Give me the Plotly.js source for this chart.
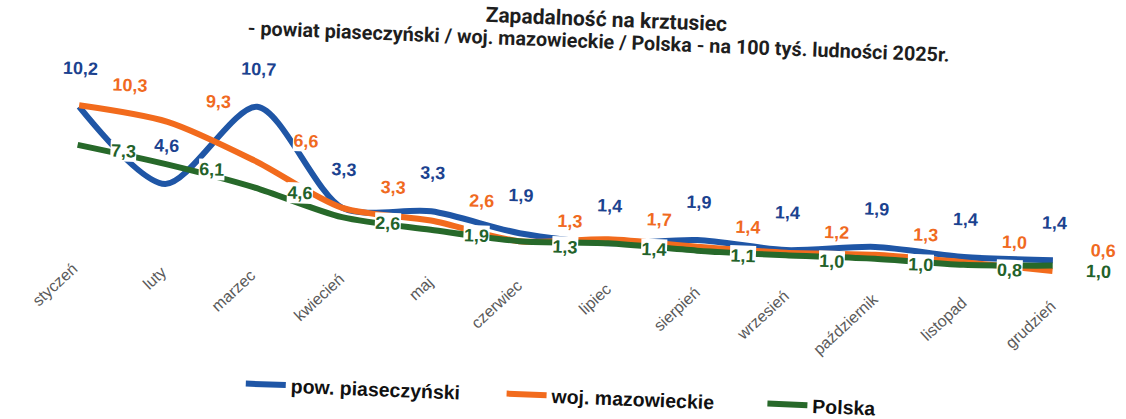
<!DOCTYPE html>
<html>
<head>
<meta charset="utf-8">
<script src="https://cdn.plot.ly/plotly-3.0.1.min.js"></script>
<style>
  html, body { margin: 0; padding: 0; background: #ffffff; overflow: hidden; }
  #chart { width: 1126px; height: 419px; transform: rotate(2.2deg); transform-origin: 50% 50%; }
</style>
</head>
<body>
<div id="chart"></div>
<script>
// --- data ---
const months = ['styczeń','luty','marzec','kwiecień','maj','czerwiec','lipiec','sierpień','wrzesień','październik','listopad','grudzień'];
const powiat = [10.2, 4.6, 10.7, 3.3, 3.3, 1.9, 1.4, 1.9, 1.4, 1.9, 1.4, 1.4];
const wojewodztwo = [10.3, 9.3, 6.6, 3.3, 2.6, 1.3, 1.7, 1.4, 1.2, 1.3, 1.0, 0.6];
const polska = [7.3, 6.1, 4.6, 2.6, 1.9, 1.3, 1.4, 1.1, 1.0, 1.0, 0.8, 1.0];
const seriesNames = ['pow. piaseczyński', 'woj. mazowieckie', 'Polska'];

const lineColors = ['#1f56a6', '#f26b1d', '#27692a'];
const labelColors = ['#1b428f', '#f06a1f', '#23622a'];
const labelShift = [ {x: 0, y: 38}, {x: 50, y: 22}, {x: 46, y: -4} ];
const allSeries = [powiat, wojewodztwo, polska];

const fmt = v => v.toFixed(1).replace('.', ',');

const traces = allSeries.map((vals, k) => ({
  type: 'scatter',
  mode: 'lines',
  x: months,
  y: vals,
  name: seriesNames[k],
  line: { color: lineColors[k], width: 6, shape: 'spline', smoothing: 0.8 },
  cliponaxis: false,
  hoverinfo: 'x+y+name'
}));

const annotations = [];
allSeries.forEach((vals, k) => {
  vals.forEach((v, i) => {
    annotations.push({
      x: months[i], y: v, xref: 'x', yref: 'y',
      text: fmt(v), showarrow: false,
      xshift: labelShift[k].x, yshift: labelShift[k].y,
      bgcolor: '#ffffff', borderpad: 0,
      font: { family: 'Liberation Sans, Arial, sans-serif', size: 18, color: labelColors[k], weight: 'bold' }
    });
  });
});

annotations.push({
  xref: 'paper', yref: 'paper', x: 0.525, y: 1.443,
  xanchor: 'center', yanchor: 'middle', showarrow: false,
  text: '- powiat piaseczyński / woj. mazowieckie / Polska - na 100 tyś. ludności 2025r.',
  font: { family: 'Roboto, sans-serif', size: 19.8, color: '#1e1e1e', weight: 'bold' }
});

const layout = {
  width: 1126, height: 419,
  margin: { l: 31, r: 27, t: 108, b: 159 },
  paper_bgcolor: '#ffffff', plot_bgcolor: '#ffffff',
  title: {
    text: 'Zapadalność na krztusiec',
    x: 0.532, xref: 'container', xanchor: 'center',
    y: 0.958, yref: 'container', yanchor: 'middle',
    font: { family: 'Roboto, sans-serif', size: 21, color: '#1e1e1e', weight: 'bold' }
  },
  xaxis: {
    type: 'category', categoryorder: 'array', categoryarray: months,
    range: [-0.5, 11.5],
    showgrid: false, zeroline: false, showline: false, ticks: '',
    tickangle: -45, ticklabelstandoff: 14,
    tickfont: { family: 'Liberation Sans, Arial, sans-serif', size: 16, color: '#5a5a5a' }
  },
  yaxis: {
    range: [0, 11.5], visible: false, showgrid: false, zeroline: false, fixedrange: true
  },
  showlegend: true,
  legend: {
    orientation: 'h', xref: 'container', yref: 'container',
    x: 0.22, xanchor: 'left', y: 0.055, yanchor: 'middle',
    font: { family: 'Liberation Sans, Arial, sans-serif', size: 19.5, color: '#111111', weight: 'bold' },
    itemwidth: 40, entrywidth: 206, entrywidthmode: 'pixels', tracegroupgap: 0
  },
  annotations: annotations
};

Plotly.newPlot('chart', traces, layout, { displayModeBar: false, staticPlot: true });
</script>
</body>
</html>
